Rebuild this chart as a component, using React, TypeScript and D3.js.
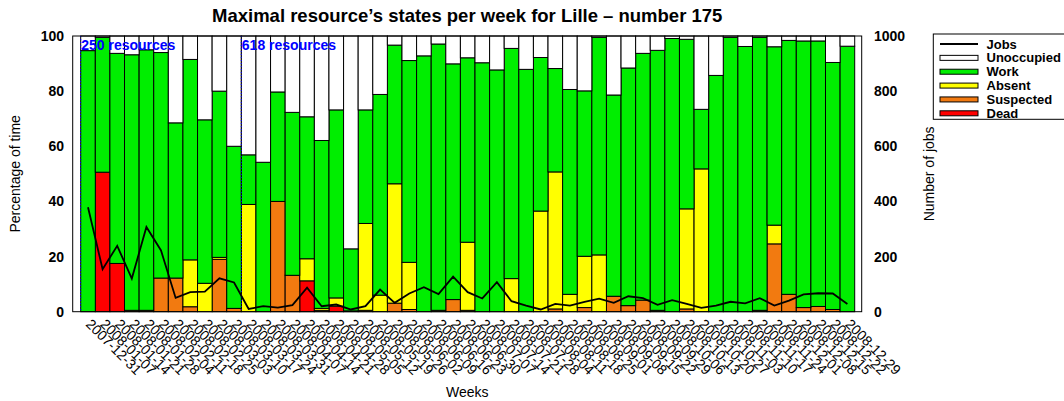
import React from "react";
import { scaleBand, scaleLinear, stack, line } from "d3";

const weeks = [
  "2007-12-31", "2008-01-07", "2008-01-14", "2008-01-21", "2008-01-28",
  "2008-02-04", "2008-02-11", "2008-02-18", "2008-02-25",
  "2008-03-03", "2008-03-10", "2008-03-17", "2008-03-24", "2008-03-31",
  "2008-04-07", "2008-04-14", "2008-04-21", "2008-04-28",
  "2008-05-05", "2008-05-12", "2008-05-19", "2008-05-26",
  "2008-06-02", "2008-06-09", "2008-06-16", "2008-06-23", "2008-06-30",
  "2008-07-07", "2008-07-14", "2008-07-21", "2008-07-28",
  "2008-08-04", "2008-08-11", "2008-08-18", "2008-08-25",
  "2008-09-01", "2008-09-08", "2008-09-15", "2008-09-22", "2008-09-29",
  "2008-10-06", "2008-10-13", "2008-10-20", "2008-10-27",
  "2008-11-03", "2008-11-10", "2008-11-17", "2008-11-24",
  "2008-12-01", "2008-12-08", "2008-12-15", "2008-12-22", "2008-12-29",
];

// % of time per state (stacked bottom -> top)
const dead = [0, 50.6, 17.5, 0, 0, 0, 0, 0, 0, 0, 0, 0, 0, 0, 0, 11.2, 0, 2.0, 0, 0, 0, 0, 0, 0, 0, 0, 0, 0, 0, 0, 0, 0, 0, 0, 0, 0, 0, 0, 0, 0, 0, 0, 0, 0, 0, 0, 0, 0, 0, 0, 0, 0, 0];
const suspected = [0, 0, 0, 0.5, 0.5, 12.2, 12.2, 1.8, 0, 19.0, 1.2, 0, 0, 40.0, 13.2, 0, 0.5, 0, 0, 0.5, 0, 3.1, 0.8, 0, 0.5, 4.4, 0.5, 0, 0, 0, 0, 0, 1.0, 0, 1.5, 0, 5.6, 2.2, 4.2, 0.5, 0, 1.0, 0, 0, 0, 0, 0.5, 24.6, 6.3, 1.5, 1.9, 0.8, 0];
const absent = [0, 0, 0, 0, 0, 0, 0, 17.0, 10.3, 0.7, 0, 38.9, 0, 0, 0, 8.0, 0.7, 3.0, 0.3, 31.5, 6.0, 43.3, 17.1, 0, 0, 0, 24.7, 0, 0, 12.0, 0, 36.5, 49.7, 6.3, 18.6, 20.6, 0, 0, 0, 0, 0, 36.3, 51.8, 0, 0, 0, 0, 6.8, 0, 0, 0, 0, 0];
const work = [94.7, 48.9, 76.2, 92.7, 94.5, 81.8, 56.3, 72.7, 59.3, 60.3, 58.8, 18.0, 54.2, 39.7, 59.1, 51.5, 60.9, 68.2, 22.5, 41.2, 72.8, 50.3, 73.2, 92.8, 96.6, 85.5, 66.9, 90.3, 87.7, 83.5, 87.9, 55.7, 37.5, 74.3, 60.0, 78.9, 73.0, 86.2, 89.5, 94.3, 99.1, 61.5, 21.6, 85.7, 99.5, 96.2, 99.0, 64.7, 92.1, 96.7, 96.3, 89.6, 96.3];
const unoccupied = [5.3, 0.5, 6.3, 6.8, 5.0, 6.0, 31.5, 8.5, 30.4, 20.0, 40.0, 43.1, 45.8, 20.3, 27.7, 29.3, 37.9, 26.8, 77.2, 26.8, 21.2, 3.3, 8.9, 7.2, 2.9, 10.1, 7.9, 9.7, 12.3, 4.5, 12.1, 7.8, 11.8, 19.4, 19.9, 0.5, 21.4, 11.6, 6.3, 5.2, 0.9, 1.2, 26.6, 14.3, 0.5, 3.8, 0.5, 3.9, 1.6, 1.8, 1.8, 9.6, 3.7];
const jobs = [379, 154, 239, 120, 307, 222, 50, 71, 73, 121, 106, 10, 20, 15, 24, 87, 20, 26, 8, 20, 80, 32, 66, 89, 64, 127, 71, 48, 107, 38, 22, 8, 28, 22, 36, 47, 32, 56, 49, 25, 42, 28, 14, 22, 36, 30, 49, 22, 40, 63, 67, 66, 28];

const pctTicks = [0, 20, 40, 60, 80, 100];
const jobTicks = [0, 200, 400, 600, 800, 1000];

const resourceMarks = [
  { week: "2007-12-31", label: "250 resources" },
  { week: "2008-03-17", label: "618 resources" },
];

const keys = ["dead", "suspected", "absent", "work", "unoccupied"];
const colors: Record<string, string> = {
  unoccupied: "#ffffff",
  work: "#00ee00",
  absent: "#ffff00",
  suspected: "#f27a10",
  dead: "#ff0000",
};
const legendItems = [
  { key: "jobs", label: "Jobs" },
  { key: "unoccupied", label: "Unoccupied" },
  { key: "work", label: "Work" },
  { key: "absent", label: "Absent" },
  { key: "suspected", label: "Suspected" },
  { key: "dead", label: "Dead" },
];

const W = 1064;
const H = 401;
const font = "'Liberation Sans', Arial, Helvetica, sans-serif";
const frame = { left: 72.7, right: 861.7, top: 36, bottom: 311.7 };

export default function App() {
  const rows = weeks.map((w, i) => ({
    week: w,
    dead: dead[i],
    suspected: suspected[i],
    absent: absent[i],
    work: work[i],
    unoccupied: unoccupied[i],
  }));
  const layers = stack<any>().keys(keys)(rows);

  const x = scaleBand().domain(weeks).range([frame.left + 8, frame.right - 7]).padding(0);
  const y = scaleLinear().domain([0, 100]).range([frame.bottom, frame.top]);
  const yJobs = scaleLinear().domain([0, 1000]).range([frame.bottom, frame.top]);
  const bw = x.bandwidth();

  const jobsPath = line<number>()
    .x((_, i) => (x(weeks[i]) as number) + bw / 2)
    .y((d) => yJobs(d))(jobs);

  return (
    <svg
      width={W}
      height={H}
      style={{ position: "absolute", left: 0, top: 0, background: "#fff", overflow: "hidden" }}
      fontFamily={font}
    >
      <rect x={0} y={0} width={W} height={H} fill="#fff" />
      <text x={(frame.left + frame.right) / 2} y={22} textAnchor="middle" fontSize={18.5} fontWeight="bold">
        Maximal resource’s states per week for Lille – number 175
      </text>

      {layers.map((layer) => (
        <g key={layer.key} fill={colors[layer.key]} stroke="#000" strokeWidth={1}>
          {layer.map((s, i) =>
            s[1] - s[0] > 0 ? (
              <rect
                key={i}
                x={x(weeks[i])}
                width={bw}
                y={y(s[1])}
                height={y(s[0]) - y(s[1])}
              />
            ) : null
          )}
        </g>
      ))}

      {resourceMarks.map((m) => (
        <g key={m.week}>
          <line
            x1={x(m.week)}
            x2={x(m.week)}
            y1={frame.top}
            y2={frame.bottom}
            stroke="#0000ff"
            strokeWidth={1}
            strokeDasharray="1,2"
          />
          <text x={(x(m.week) as number) + 0.5} y={50} fill="#0000ff" fontSize={14} fontWeight="bold">
            {m.label}
          </text>
        </g>
      ))}

      <path d={jobsPath || ""} fill="none" stroke="#000" strokeWidth={1.8} />

      <rect
        x={frame.left}
        y={frame.top}
        width={frame.right - frame.left}
        height={frame.bottom - frame.top}
        fill="none"
        stroke="#000"
        strokeWidth={1}
      />

      {pctTicks.map((t) => (
        <text key={t} x={64} y={y(t)} dy="0.36em" textAnchor="end" fontSize={14} fontWeight="bold">
          {t}
        </text>
      ))}
      {jobTicks.map((t) => (
        <text key={t} x={874} y={yJobs(t)} dy="0.36em" textAnchor="start" fontSize={14} fontWeight="bold">
          {t}
        </text>
      ))}

      {weeks.map((w) => (
        <text
          key={w}
          transform={`translate(${(x(w) as number) + bw / 2 - 3},${325}) rotate(45)`}
          fontSize={14}
        >
          {w}
        </text>
      ))}

      <text x={(frame.left + frame.right) / 2} y={396.5} textAnchor="middle" fontSize={14}>
        Weeks
      </text>
      <text transform={`translate(20,${(frame.top + frame.bottom) / 2}) rotate(-90)`} textAnchor="middle" fontSize={14}>
        Percentage of time
      </text>
      <text transform={`translate(934,${(frame.top + frame.bottom) / 2}) rotate(-90)`} textAnchor="middle" fontSize={14}>
        Number of jobs
      </text>

      <rect x={933.3} y={34} width={150} height={85.3} fill="#fff" stroke="#000" strokeWidth={1} />
      {legendItems.map((it, i) => {
        const cy = 44 + i * 13.86;
        return (
          <g key={it.key}>
            {it.key === "jobs" ? (
              <line x1={940} x2={978} y1={cy} y2={cy} stroke="#000" strokeWidth={1.8} />
            ) : (
              <rect x={940} y={cy - 2.5} width={38} height={5} fill={colors[it.key]} stroke="#000" strokeWidth={1} />
            )}
            <text x={986.5} y={cy} dy="0.35em" fontSize={13} fontWeight="bold">
              {it.label}
            </text>
          </g>
        );
      })}
    </svg>
  );
}
